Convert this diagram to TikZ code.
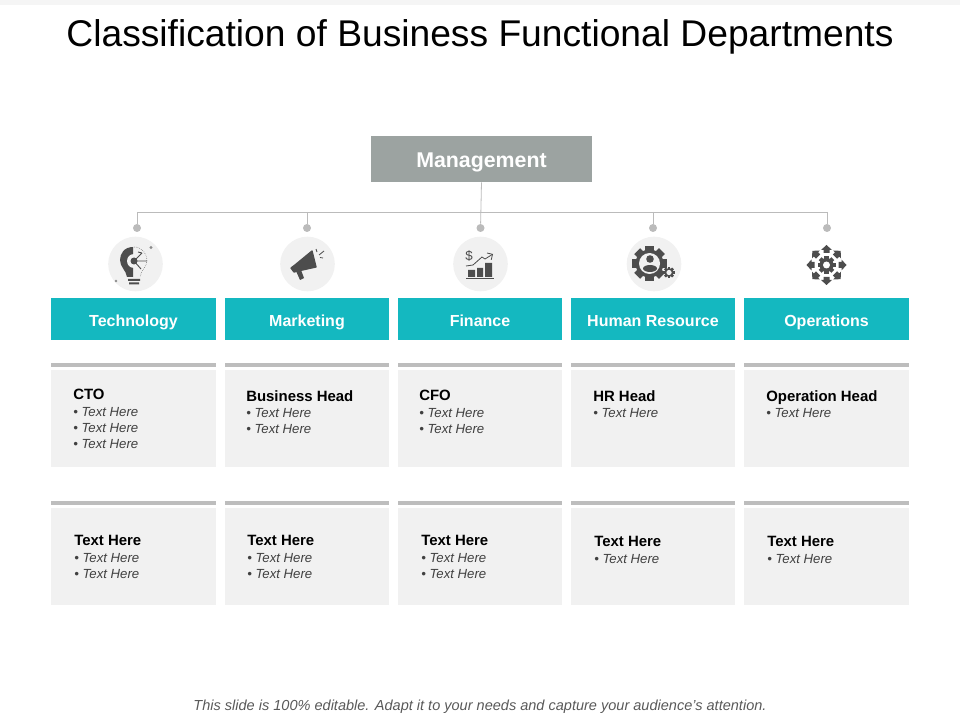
\documentclass[tikz,border=0pt]{standalone}
\usepackage{fontspec}
\setmainfont{Liberation Sans}
\usepackage{xcolor}
\usetikzlibrary{positioning, arrows.meta, shapes}

\definecolor{mgmtgray}{HTML}{9CA3A1}
\definecolor{tealhead}{HTML}{14B8C0}
\definecolor{cardgray}{HTML}{F1F1F1}
\definecolor{bargray}{HTML}{BDBDBD}
\definecolor{linegray}{HTML}{BBBBBB}
\definecolor{icongray}{HTML}{4D4D4D}

\tikzset{
  mgmtbox/.style={fill=mgmtgray, text=white, inner sep=0pt, text height=12.5pt, text depth=0pt, font=\fontsize{16}{18}\selectfont\bfseries},
  headbox/.style={fill=tealhead, text=white, inner sep=0pt, text height=10.5pt, text depth=0pt, font=\fontsize{12}{14}\selectfont\bfseries},
  cardbox/.style={fill=cardgray, inner sep=0pt},
  barbox/.style={fill=bargray, inner sep=0pt},
  dotmark/.style={circle, fill=linegray, inner sep=0pt, minimum size=6pt},
  iconback/.style={circle, fill=cardgray, inner sep=0pt, minimum size=41pt},
  cardtext/.style={anchor=north west, align=left, inner sep=0pt, text=black!75, font=\fontsize{9.9}{12}\selectfont\itshape},
  iconfill/.style={fill=icongray},
}
\newcommand{\cardhead}[1]{{\fontsize{11.2}{12}\selectfont\upshape\bfseries\color{black}#1}}
\newcommand{\gearmark}[6]{% x, y, body radius, tooth length, hole radius, hole colour
  \foreach \g in {0,45,...,315}
    \fill[iconfill, shift={(#1,#2)}, rotate=\g] (-0.3*#3,0) rectangle (0.3*#3,#3+#4);
  \fill[iconfill] (#1,#2) circle (#3);
  \fill[#6] (#1,#2) circle (#5);
}

\begin{document}
\begin{tikzpicture}[x=0.75pt, y=-0.75pt]
  \useasboundingbox (0,0) rectangle (960,720);
  \fill[black!4] (0,0) rectangle (960,5);

  \node[anchor=base, inner sep=0pt, font=\fontsize{27.9}{30}\selectfont] (title) at (480,47) {Classification of Business Functional Departments};

  \node[mgmtbox, minimum width=165.75pt, minimum height=34.5pt] (mgmt) at (481.5,159) {Management};

  % connectors
  \coordinate (tap1) at (137,212); \coordinate (tap2) at (307,212); \coordinate (tap3) at (481,212);
  \coordinate (tap4) at (653,212); \coordinate (tap5) at (827,212);
  \node[dotmark] (dot1) at (137,228) {}; \node[dotmark] (dot2) at (307,228) {}; \node[dotmark] (dot3) at (480.5,228) {};
  \node[dotmark] (dot4) at (653,228) {}; \node[dotmark] (dot5) at (827,228) {};
  \draw[linegray, line width=0.6pt] (tap1)--(tap5);
  \draw[linegray, line width=0.6pt] (mgmt.south)--(dot3);
  \foreach \i in {1,2,4,5} \draw[linegray, line width=0.6pt] (tap\i)--(dot\i);

  % columns
  \foreach \i/\x/\w/\label in {1/133.5/165/Technology, 2/307/164/Marketing, 3/480/164/Finance, 4/653/164/Human Resource, 5/826.5/165/Operations} {
    \node[headbox, minimum width=\w*0.75pt, minimum height=31.5pt] (head\i) at (\x,319) {\label};
    \node[barbox, minimum width=\w*0.75pt, minimum height=3pt] (bara\i) at (\x,365) {};
    \node[cardbox, minimum width=\w*0.75pt, minimum height=72.75pt] (carda\i) at (\x,418.5) {};
    \node[barbox, minimum width=\w*0.75pt, minimum height=3pt] (barb\i) at (\x,503) {};
    \node[cardbox, minimum width=\w*0.75pt, minimum height=72.75pt] (cardb\i) at (\x,556.5) {};
  }

  % upper cards
  \node[cardtext] (cto) at (73,389) {\cardhead{CTO}\\[0.6pt]• Text Here\\• Text Here\\• Text Here};
  \node[cardtext] (bizhead) at (246,390) {\cardhead{Business Head}\\[0.6pt]• Text Here\\• Text Here};
  \node[cardtext] (cfo) at (419,390) {\cardhead{CFO}\\[0.6pt]• Text Here\\• Text Here};
  \node[cardtext] (hrhead) at (593,390) {\cardhead{HR Head}\\[0.6pt]• Text Here};
  \node[cardtext] (opshead) at (766,390) {\cardhead{Operation Head}\\[0.6pt]• Text Here};

  % lower cards
  \node[cardtext] (lowa) at (74,535) {\cardhead{Text Here}\\[0.6pt]• Text Here\\• Text Here};
  \node[cardtext] (lowb) at (247,535) {\cardhead{Text Here}\\[0.6pt]• Text Here\\• Text Here};
  \node[cardtext] (lowc) at (421,535) {\cardhead{Text Here}\\[0.6pt]• Text Here\\• Text Here};
  \node[cardtext] (lowd) at (594,536) {\cardhead{Text Here}\\[0.6pt]• Text Here};
  \node[cardtext] (lowe) at (767,536) {\cardhead{Text Here}\\[0.6pt]• Text Here};

  % icon backgrounds
  \node[iconback] (backa) at (135.5,264) {};
  \node[iconback] (backb) at (307.5,264) {};
  \node[iconback] (backc) at (480.5,264) {};
  \node[iconback] (backd) at (654,264) {};

  % bulb
  \fill[iconfill] (133,247) .. controls (124,247) and (120,254) .. (120,260) .. controls (120,267) and (126,270) .. (127,277) -- (133,277) -- cycle;
  \fill[cardgray] (134,261) circle (7);
  \fill[iconfill] (134,261) circle (3.5);
  \draw[icongray, densely dotted] (134,247) .. controls (142,247) and (147,254) .. (147,260) .. controls (147,267) and (141,270) .. (140,277);
  \draw[icongray, line width=0.7pt] (134,261)--(147,261) (134,261)--(142,253) (134,261)--(141,269) (138,252)--(142,253);
  \fill[iconfill] (128,279) rectangle (140,281) (129,282.5) rectangle (139,284.5);
  \fill[black!45] (151,247.5) circle (1.6) (116,281) circle (1.3);

  % megaphone
  \filldraw[icongray, line join=round, line width=1pt] (291,268) -- (295,265) -- (312,251) -- (316,267) -- (298,271) -- (294,272) -- cycle;
  \fill[iconfill] (296,271) -- (301,270) -- (304,278) -- (300,280) -- cycle;
  \draw[icongray, line width=0.6pt] (316,249)--(317,252) (324,251)--(319,255) (323,258)--(320,257.5);

  % finance
  \fill[iconfill] (468,270) rectangle (475,277) (477,268) rectangle (483,277) (485,263) rectangle (492,277);
  \draw[icongray, line width=0.6pt] (466,278)--(494,278);
  \draw[icongray, line width=0.6pt, -{Straight Barb[length=3pt]}] (466,266)--(473,265)--(482,257)--(485,259)--(493,254);
  \node[inner sep=0pt, text=icongray, font=\fontsize{10}{10}\selectfont] (dollar) at (469,256) {\$};

  % people gear
  \gearmark{649.5}{263.5}{14}{3.5}{10.5}{cardgray}
  \fill[iconfill] (650,259) circle (3.8);
  \fill[iconfill] (650,268.5) ellipse (7 and 3.5);
  \gearmark{669}{272.5}{4.5}{1.2}{2.6}{cardgray}

  % operations
  \gearmark{826.5}{265}{7}{2}{3.5}{white}
  \foreach \a in {0,45,...,315}
    \fill[iconfill, shift={(826.5,265)}, rotate=\a] (-3,12) -- (3,12) -- (3,15) -- (5.5,15) -- (0,20) -- (-5.5,15) -- (-3,15) -- cycle;

  \node[inner sep=0pt, text=black!65, font=\fontsize{10.9}{12}\selectfont\itshape] (footer) at (480,707) {This slide is 100\% editable.  Adapt it to your needs and capture your audience's attention.};
\end{tikzpicture}
\end{document}
